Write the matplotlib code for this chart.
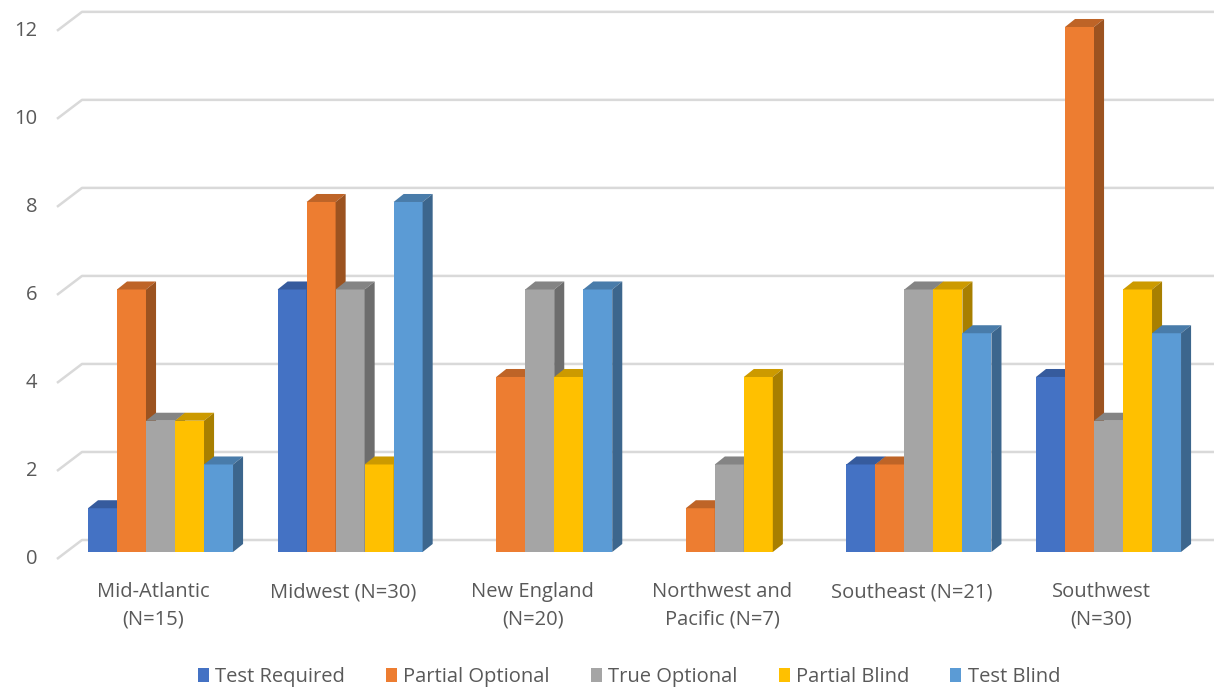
import numpy as np
import matplotlib.pyplot as plt
from matplotlib.patches import Polygon, Patch
import matplotlib.colors as mcolors

plt.rcParams['font.family'] = ['Open Sans', 'DejaVu Sans']

regions = ['Mid-Atlantic\n(N=15)', 'Midwest (N=30)', 'New England\n(N=20)',
           'Northwest and\nPacific (N=7)', 'Southeast (N=21)', 'Southwest\n(N=30)']
series = ['Test Required', 'Partial Optional', 'True Optional', 'Partial Blind', 'Test Blind']
test_required = [1, 6, 0, 0, 2, 4]
partial_optional = [6, 8, 4, 1, 2, 12]
true_optional = [3, 6, 6, 2, 6, 3]
partial_blind = [3, 2, 4, 4, 6, 6]
test_blind = [2, 8, 6, 0, 5, 5]
yticks = [0, 2, 4, 6, 8, 10, 12]

values = [test_required, partial_optional, true_optional, partial_blind, test_blind]
colors = ['#4472C4', '#ED7D31', '#A5A5A5', '#FFC000', '#5B9BD5']
txt = '#595959'
grid_c = '#d9d9d9'
fs = 14.5

# fake 3d geometry, in data units (x: category, y: value)
bar_w = 0.153
dep_x, dep_y = 0.053, 0.183
wall_front_x, wall_back_x = -0.546, -0.414


def shade(c, f):
    r, g, b = mcolors.to_rgb(c)
    return (r * f, g * f, b * f)


fig = plt.figure(figsize=(12.14, 6.88), dpi=100)
ax = fig.add_axes([0, 0, 1, 1])
ax.set_xlim(-0.8465, 5.5564)
ax.set_ylim(-3.109, 12.617)
ax.axis('off')

# back wall gridlines + side wall diagonal
for v in yticks:
    yb = v * 1.006 + 0.274
    yf = v * 1.006 - 0.16
    ax.plot([wall_front_x, wall_back_x, 5.5564], [yf, yb, yb],
            color=grid_c, lw=1.8, zorder=1, solid_capstyle='butt')
    ax.text(wall_front_x - 0.105, yf, str(v), ha='right', va='center',
            fontsize=fs, color=txt)

# bars, drawn left to right so neighbours hide the side faces
z = 2
for i in range(len(regions)):
    for j, vals in enumerate(values):
        h = vals[i]
        if h <= 0:
            continue
        left = i - 2.5 * bar_w + j * bar_w
        right = left + bar_w
        c = colors[j]
        front = Polygon([(left, 0), (right, 0), (right, h), (left, h)],
                        closed=True, fc=c, ec='none', zorder=z)
        top = Polygon([(left, h), (right, h), (right + dep_x, h + dep_y),
                       (left + dep_x, h + dep_y)],
                      closed=True, fc=shade(c, 0.8), ec='none', zorder=z)
        side = Polygon([(right, 0), (right + dep_x, dep_y),
                        (right + dep_x, h + dep_y), (right, h)],
                       closed=True, fc=shade(c, 0.66), ec='none', zorder=z)
        for p in (front, top, side):
            ax.add_patch(p)
        z += 1

# category labels
for i, name in enumerate(regions):
    ax.text(i - 0.037, -0.69, name, ha='center', va='top', fontsize=fs,
            color=txt, linespacing=1.5)

handles = [Patch(fc=c, ec='none', label=s) for c, s in zip(colors, series)]
fig.legend(handles=handles, loc='center', bbox_to_anchor=(0.518, 0.016),
           ncol=5, frameon=False, fontsize=fs, handlelength=0.55,
           handleheight=0.7, handletextpad=0.3, columnspacing=2.05,
           labelcolor=txt)

fig.savefig('out.png', dpi=100)
